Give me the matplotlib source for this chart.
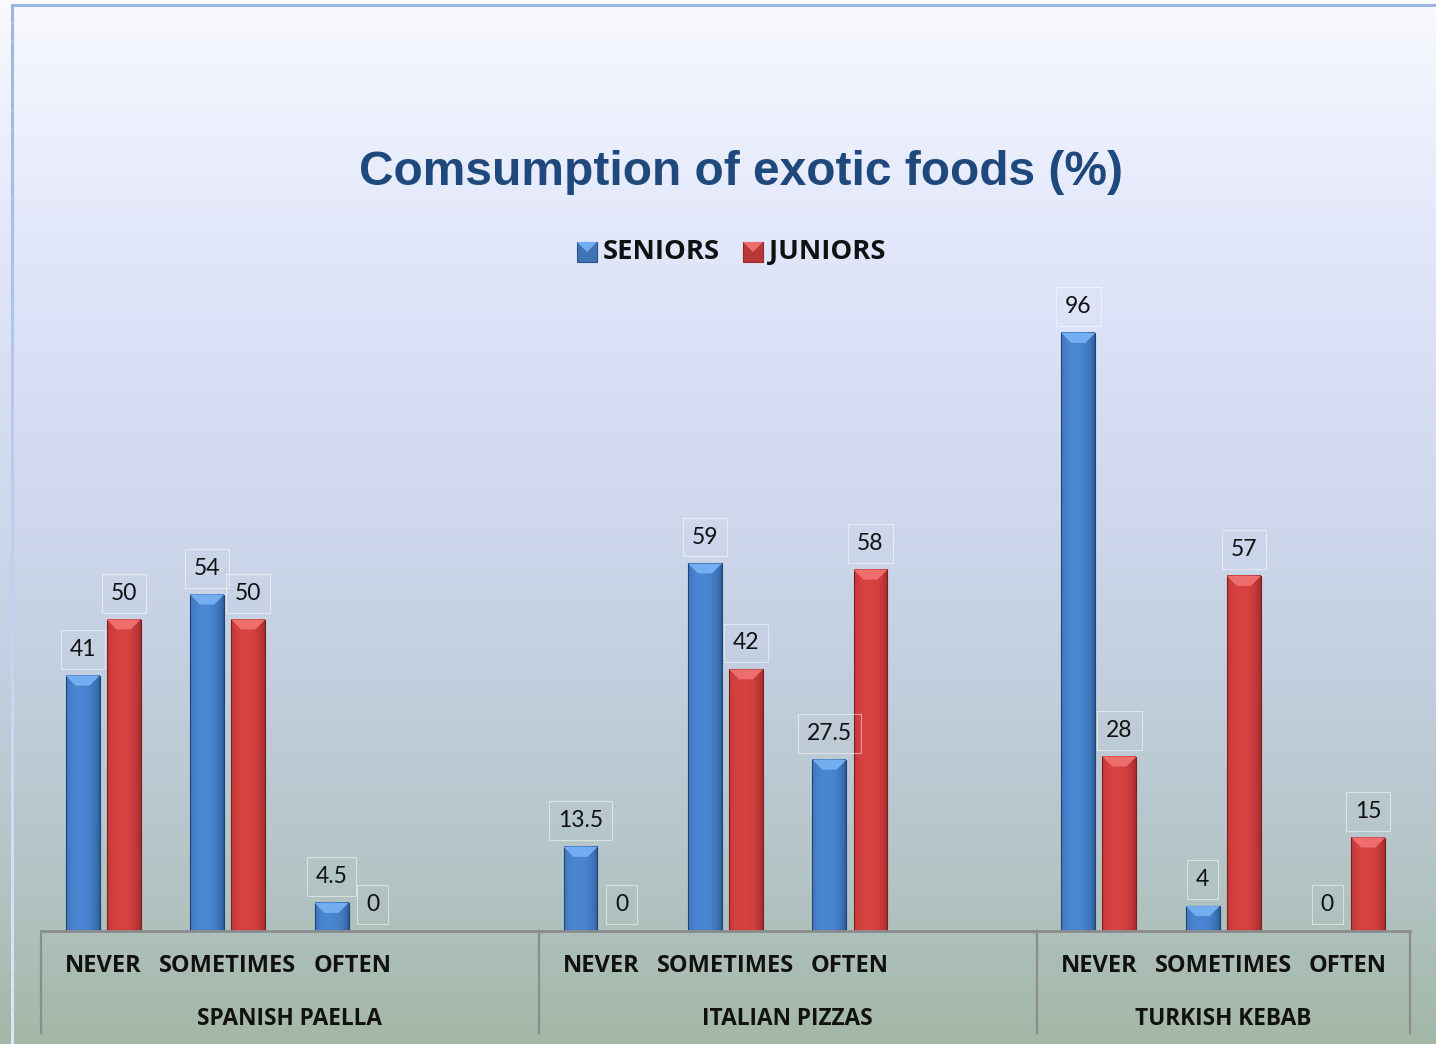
import numpy as np
import matplotlib.pyplot as plt
from matplotlib.colors import to_rgb
from matplotlib.patches import Rectangle, Polygon
from matplotlib.collections import LineCollection

# Survey data: share of each answer per dish
groups = ['SPANISH PAELLA', 'ITALIAN PIZZAS', 'TURKISH KEBAB']
answers = ['NEVER', 'SOMETIMES', 'OFTEN']
seniors = [41, 54, 4.5, 13.5, 59, 27.5, 96, 4, 0]
juniors = [50, 50, 0, 0, 42, 58, 28, 57, 15]

W, H = 1436, 1044
fig = plt.figure(figsize=(W / 100, H / 100), dpi=100)

BOLD = 'Open Sans'

# vertical background gradient, white-lavender at top to grey-green at bottom
stops_y = [0, 100, 250, 450, 650, 880, 1044]
stops_c = ['#f9fafe', '#eff2fd', '#e1e6fa', '#d3dbf1', '#c5d0e2', '#b3c4c4', '#a3b7a6']
rows = np.arange(H)
rgb = np.array([to_rgb(c) for c in stops_c])
grad = np.stack([np.interp(rows, stops_y, rgb[:, k]) for k in range(3)], axis=1)
bg = fig.add_axes([0, 0, 1, 1], zorder=-5)
bg.imshow(grad[:, None, :], extent=[0, 1, 0, 1], aspect='auto')
bg.set_xlim(0, 1)
bg.set_ylim(0, 1)
bg.axis('off')

# chart frame (top and left edges)
fig.add_artist(plt.Line2D([12 / W, 1], [1 - 5 / H, 1 - 5 / H], color='#9db5e3', lw=2.2,
                          transform=fig.transFigure))
ys = np.linspace(5, H, 60)
segs = [[(12 / W, 1 - a / H), (12 / W, 1 - b / H)] for a, b in zip(ys[:-1], ys[1:])]
fr0, fr1 = np.array(to_rgb('#9db5e3')), np.array(to_rgb('#dfe5f6'))
seg_cols = [fr0 + (fr1 - fr0) * (i / (len(segs) - 1)) for i in range(len(segs))]
fig.add_artist(LineCollection(segs, colors=seg_cols, lw=2.2, transform=fig.transFigure))

fig.text(741 / W, 1 - 172 / H, 'Comsumption of exotic foods (%)', ha='center', va='center',
         fontsize=34.5, fontweight='bold', family='Liberation Sans', color='#1f497d')

ax = fig.add_axes([41 / W, (H - 931) / H, 1369 / W, 623 / H])
ax.axis('off')

BW = 0.273
OFF = 0.165
blue = dict(dark=np.array(to_rgb('#27548e')), light=np.array(to_rgb('#4b87d3')), cap='#72aef0')
red = dict(dark=np.array(to_rgb('#982626')), light=np.array(to_rgb('#d94242')), cap='#ee6e6e')


def draw_bar(xc, h, dark, light, cap):
    if h <= 0:
        return
    x0, x1 = xc - BW / 2, xc + BW / 2
    t = np.linspace(0, 1, 40)
    prof = np.clip(1 - ((t - 0.42) / 0.6) ** 2, 0, 1) ** 0.6
    cols = dark[None, :] + (light - dark)[None, :] * prof[:, None]
    ax.imshow(cols[None, :, :], extent=[x0, x1, 0, h], aspect='auto',
              interpolation='bilinear', zorder=2)
    ax.add_patch(Rectangle((x0, 0), BW, h, fill=False, ec=dark * 0.8, lw=0.8, zorder=3))
    ch = min(1.6, h * 0.45)
    ins = 0.08
    ax.add_patch(Polygon([(x0, h), (x1, h), (x1 - ins, h - ch), (x0 + ins, h - ch)],
                         closed=True, fc=cap, ec='none', zorder=3))


def value_label(xc, v):
    ax.annotate(f'{v:g}', (xc, v), xytext=(0, 19), textcoords='offset points',
                ha='center', va='center', fontsize=16.5, family='Lato', color='#111111',
                bbox=dict(boxstyle='square,pad=0.39', fc='none', ec=(1, 1, 1, 0.5), lw=0.8),
                zorder=5)


pos = [g * 4 + i for g in range(len(groups)) for i in range(len(answers))]
for k, p in enumerate(pos):
    draw_bar(p - OFF, seniors[k], **blue)
    draw_bar(p + OFF, juniors[k], **red)
    value_label(p - OFF, seniors[k])
    value_label(p + OFF, juniors[k])
    ax.text(p, -0.056, answers[k % 3], transform=ax.get_xaxis_transform(), ha='center',
            va='center', fontsize=17, fontweight='bold', family=BOLD, color='#111111')

# axis line and group separators
ax.plot([-0.5, 10.5], [0, 0], color='#8c8c8c', lw=2, clip_on=False, zorder=4)
tr = ax.get_xaxis_transform()
for xb in [-0.5, 3.5, 7.5, 10.5]:
    ax.plot([xb, xb], [0, -0.1637], color='#8c8c8c', lw=1.6, transform=tr, clip_on=False)
for g, name in enumerate(groups):
    lo, hi = g * 4 - 0.5, min(g * 4 + 3.5, 10.5)
    ax.text((lo + hi) / 2, -0.141, name, transform=tr, ha='center', va='center',
            fontsize=16.3, fontweight='bold', family=BOLD, color='#111111')

ax.set_xlim(-0.5, 10.5)
ax.set_ylim(0, 100)

# legend
for x0, name, st in [(577, 'SENIORS', blue), (743, 'JUNIORS', red)]:
    sq = Rectangle((x0 / W, 1 - 262 / H), 20 / W, 20 / H, transform=fig.transFigure,
                   fc=st['light'] * 0.85, ec=st['dark'], lw=0.8)
    fig.add_artist(sq)
    tri = Polygon([(x0 / W, 1 - 242 / H), ((x0 + 20) / W, 1 - 242 / H),
                   ((x0 + 10) / W, 1 - 252 / H)], closed=True, transform=fig.transFigure,
                  fc=st['cap'], ec='none')
    fig.add_artist(tri)
    fig.text((x0 + 26) / W, 1 - 252 / H, name, ha='left', va='center', fontsize=19.7,
             fontweight='bold', family=BOLD, color='#111111')

fig.savefig('out.png', dpi=100)
